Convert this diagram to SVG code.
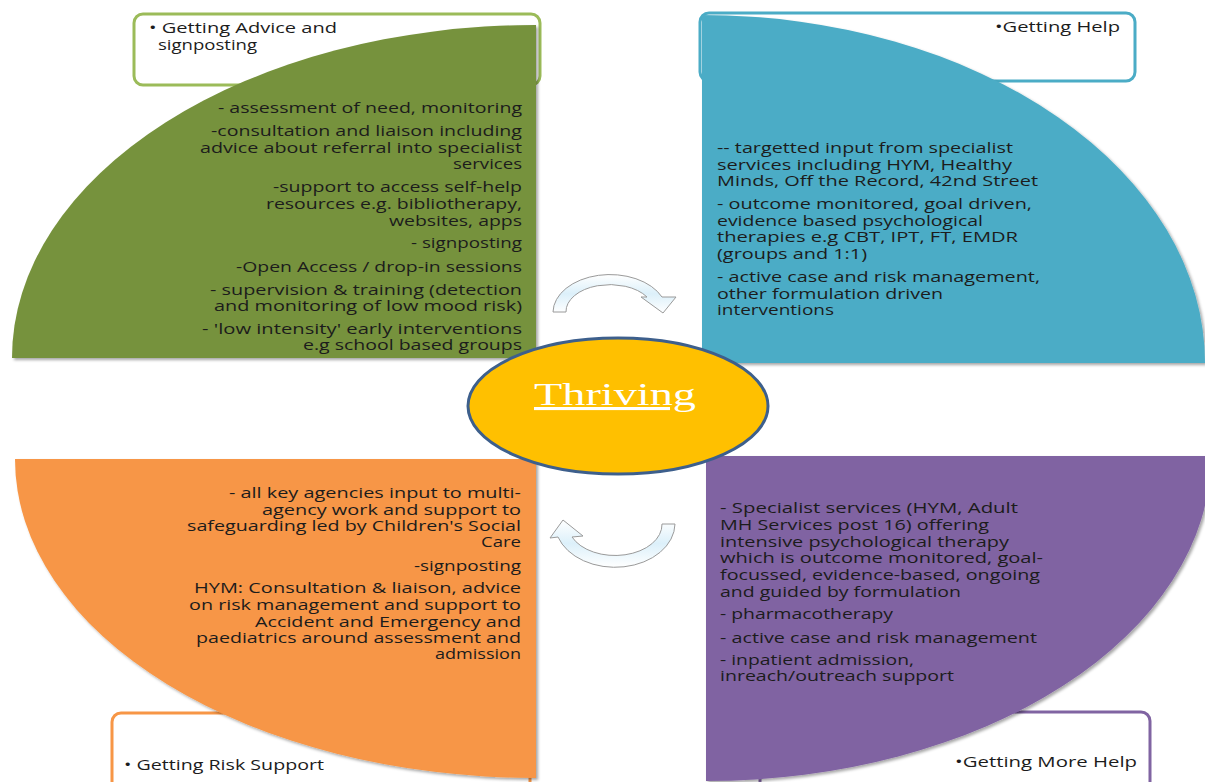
<svg xmlns="http://www.w3.org/2000/svg" width="1205" height="782" viewBox="0 0 1205 782">
<defs>
<style>
.t{font-family:"Open Sans","Noto Sans","Liberation Sans",sans-serif;font-size:14px;fill:#1c1c1c}
.box{fill:#ffffff;stroke-width:3}
.q{filter:url(#sh)}
.arr{fill:url(#ag);stroke:#9a9a9a;stroke-width:1}
</style>
<filter id="sh" x="-5%" y="-5%" width="110%" height="110%">
<feDropShadow dx="2" dy="2" stdDeviation="1.5" flood-color="#000" flood-opacity="0.35"/>
</filter>
<linearGradient id="ag" x1="0" y1="0" x2="0" y2="1">
<stop offset="0" stop-color="#ffffff"/>
<stop offset="0.5" stop-color="#dcf0fa"/>
<stop offset="1" stop-color="#ffffff"/>
</linearGradient>
</defs>
<rect width="1205" height="782" fill="#ffffff"/>

<g id="label-advice">
<rect class="box" x="134" y="14" width="406" height="71" rx="9" stroke="#9bbb59"/>
<text class="t" x="149" y="33" textLength="188" lengthAdjust="spacingAndGlyphs">• Getting Advice and</text>
<text class="t" x="158" y="50" textLength="99" lengthAdjust="spacingAndGlyphs">signposting</text>
</g>
<g id="label-help">
<rect class="box" x="700" y="13" width="435" height="68" rx="9" stroke="#4bacc6"/>
<text class="t" x="995" y="32" textLength="125" lengthAdjust="spacingAndGlyphs">•Getting Help</text>
</g>
<g id="label-risk">
<rect class="box" x="112" y="713" width="418" height="90" rx="9" stroke="#f79646"/>
<text class="t" x="124" y="770" textLength="200" lengthAdjust="spacingAndGlyphs">• Getting Risk Support</text>
</g>
<g id="label-more">
<rect class="box" x="760" y="712" width="390" height="90" rx="9" stroke="#8064a2"/>
<text class="t" x="955" y="767" textLength="182" lengthAdjust="spacingAndGlyphs">•Getting More Help</text>
</g>

<g id="quadrant-advice">
<path class="q" d="M536 358 L12 358 A524 333 0 0 1 536 25 Z" fill="#76923c"/>
<text class="t" x="218" y="113" textLength="304" lengthAdjust="spacingAndGlyphs">- assessment of need, monitoring</text>
<text class="t" x="211" y="136" textLength="311" lengthAdjust="spacingAndGlyphs">-consultation and liaison including</text>
<text class="t" x="200" y="153" textLength="322" lengthAdjust="spacingAndGlyphs">advice about referral into specialist</text>
<text class="t" x="453" y="169" textLength="69" lengthAdjust="spacingAndGlyphs">services</text>
<text class="t" x="273" y="192" textLength="249" lengthAdjust="spacingAndGlyphs">-support to access self-help</text>
<text class="t" x="266" y="209" textLength="256" lengthAdjust="spacingAndGlyphs">resources e.g. bibliotherapy,</text>
<text class="t" x="389" y="226" textLength="133" lengthAdjust="spacingAndGlyphs">websites, apps</text>
<text class="t" x="411" y="248" textLength="111" lengthAdjust="spacingAndGlyphs">- signposting</text>
<text class="t" x="236" y="272" textLength="286" lengthAdjust="spacingAndGlyphs">-Open Access / drop-in sessions</text>
<text class="t" x="210" y="295" textLength="312" lengthAdjust="spacingAndGlyphs">- supervision &amp; training (detection</text>
<text class="t" x="214" y="311" textLength="308" lengthAdjust="spacingAndGlyphs">and monitoring of low mood risk)</text>
<text class="t" x="202" y="334" textLength="320" lengthAdjust="spacingAndGlyphs">- 'low intensity' early interventions</text>
<text class="t" x="303" y="350" textLength="219" lengthAdjust="spacingAndGlyphs">e.g school based groups</text>
</g>

<g id="quadrant-help">
<path class="q" d="M702 363 L702 15 A503 348 0 0 1 1205 363 Z" fill="#4bacc6"/>
<text class="t" x="717" y="153" textLength="296" lengthAdjust="spacingAndGlyphs">-- targetted input from specialist</text>
<text class="t" x="717" y="170" textLength="295" lengthAdjust="spacingAndGlyphs">services including HYM, Healthy</text>
<text class="t" x="717" y="186" textLength="321" lengthAdjust="spacingAndGlyphs">Minds, Off the Record, 42nd Street</text>
<text class="t" x="717" y="209" textLength="315" lengthAdjust="spacingAndGlyphs">- outcome monitored, goal driven,</text>
<text class="t" x="717" y="226" textLength="266" lengthAdjust="spacingAndGlyphs">evidence based psychological</text>
<text class="t" x="717" y="242" textLength="301" lengthAdjust="spacingAndGlyphs">therapies e.g CBT, IPT, FT, EMDR</text>
<text class="t" x="717" y="259" textLength="150" lengthAdjust="spacingAndGlyphs">(groups and 1:1)</text>
<text class="t" x="717" y="282" textLength="323" lengthAdjust="spacingAndGlyphs">- active case and risk management,</text>
<text class="t" x="717" y="299" textLength="226" lengthAdjust="spacingAndGlyphs">other formulation driven</text>
<text class="t" x="717" y="315" textLength="117" lengthAdjust="spacingAndGlyphs">interventions</text>
</g>

<g id="quadrant-risk">
<path class="q" d="M536 459 L15 459 A521 319 0 0 0 536 778 Z" fill="#f79646"/>
<text class="t" x="229" y="498" textLength="292" lengthAdjust="spacingAndGlyphs">- all key agencies input to multi-</text>
<text class="t" x="262" y="515" textLength="259" lengthAdjust="spacingAndGlyphs">agency work and support to</text>
<text class="t" x="187" y="531" textLength="334" lengthAdjust="spacingAndGlyphs">safeguarding led by Children's Social</text>
<text class="t" x="481" y="547" textLength="40" lengthAdjust="spacingAndGlyphs">Care</text>
<text class="t" x="414" y="571" textLength="107" lengthAdjust="spacingAndGlyphs">-signposting</text>
<text class="t" x="194" y="593" textLength="327" lengthAdjust="spacingAndGlyphs">HYM: Consultation &amp; liaison, advice</text>
<text class="t" x="189" y="610" textLength="332" lengthAdjust="spacingAndGlyphs">on risk management and support to</text>
<text class="t" x="255" y="627" textLength="266" lengthAdjust="spacingAndGlyphs">Accident and Emergency and</text>
<text class="t" x="196" y="643" textLength="325" lengthAdjust="spacingAndGlyphs">paediatrics around assessment and</text>
<text class="t" x="435" y="659" textLength="86" lengthAdjust="spacingAndGlyphs">admission</text>
</g>

<g id="quadrant-more">
<path class="q" d="M706 456 L1211 456 A505 325 0 0 1 706 781 Z" fill="#8064a2"/>
<text class="t" x="720" y="513" textLength="298" lengthAdjust="spacingAndGlyphs">- Specialist services (HYM, Adult</text>
<text class="t" x="720" y="530" textLength="269" lengthAdjust="spacingAndGlyphs">MH Services post 16) offering</text>
<text class="t" x="720" y="547" textLength="289" lengthAdjust="spacingAndGlyphs">intensive psychological therapy</text>
<text class="t" x="720" y="563" textLength="323" lengthAdjust="spacingAndGlyphs">which is outcome monitored, goal-</text>
<text class="t" x="720" y="580" textLength="320" lengthAdjust="spacingAndGlyphs">focussed, evidence-based, ongoing</text>
<text class="t" x="720" y="597" textLength="241" lengthAdjust="spacingAndGlyphs">and guided by formulation</text>
<text class="t" x="720" y="619" textLength="173" lengthAdjust="spacingAndGlyphs">- pharmacotherapy</text>
<text class="t" x="720" y="643" textLength="317" lengthAdjust="spacingAndGlyphs">- active case and risk management</text>
<text class="t" x="720" y="665" textLength="194" lengthAdjust="spacingAndGlyphs">- inpatient admission,</text>
<text class="t" x="720" y="681" textLength="234" lengthAdjust="spacingAndGlyphs">inreach/outreach support</text>
</g>

<g id="connectors">
<path class="arr" d="M553 312 A57 38 0 0 1 662 297 L676 297 L663 313 L641 297 L647 297 A44 27 0 0 0 566 312 Z"/>
<path class="arr" d="M675 524 A60 44 0 0 1 558 537 L550 538 L563 520 L583 536 L572 537 A47 31 0 0 0 662 524 Z"/>
</g>

<g id="thriving">
<ellipse cx="618" cy="406" rx="150" ry="68" fill="#ffc000" stroke="#3d5f8c" stroke-width="3"/>
<text x="534" y="405" textLength="162" lengthAdjust="spacingAndGlyphs" font-family="'Liberation Serif','Times New Roman',serif" font-size="31" fill="#ffffff" text-decoration="underline">Thriving</text>
</g>
</svg>
